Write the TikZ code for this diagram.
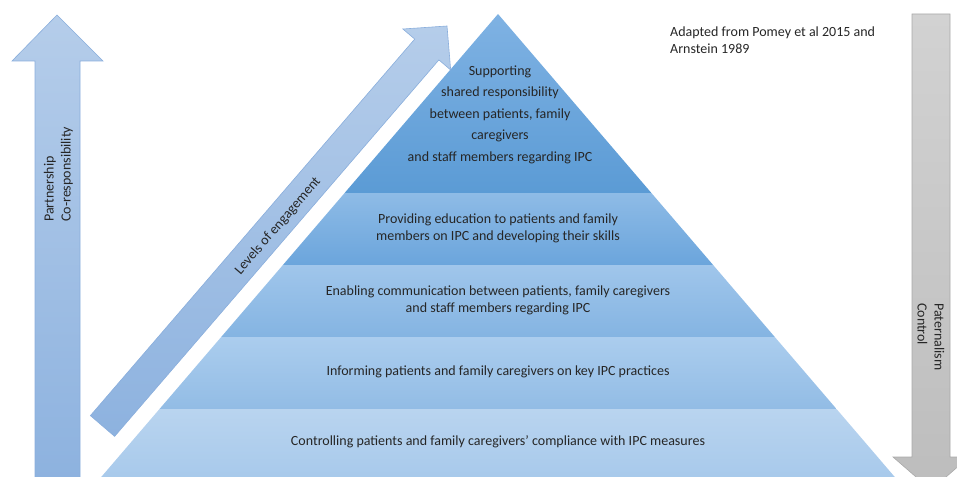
\documentclass[tikz,border=0pt]{standalone}
\usepackage{fontspec}
\setmainfont{Carlito}
\definecolor{arrowTop}{HTML}{B5CDEA}
\definecolor{arrowBot}{HTML}{8DB2DF}
\definecolor{arrowLine}{HTML}{8AAEDC}
\definecolor{grayTop}{HTML}{D2D2D2}
\definecolor{grayBot}{HTML}{BDBDBD}
\definecolor{grayLine}{HTML}{A9A9A9}
\definecolor{lOneTop}{HTML}{7FB2E3}
\definecolor{lOneBot}{HTML}{5B9BD5}
\definecolor{lTwoTop}{HTML}{8EBBE6}
\definecolor{lTwoBot}{HTML}{6BA5DC}
\definecolor{lThreeTop}{HTML}{A0C6EB}
\definecolor{lThreeBot}{HTML}{84B4E2}
\definecolor{lFourTop}{HTML}{ABCDEE}
\definecolor{lFourBot}{HTML}{92BCE5}
\definecolor{lFiveTop}{HTML}{B9D4EF}
\definecolor{lFiveBot}{HTML}{A7C9EB}
\definecolor{txtcol}{HTML}{262626}
\begin{document}
\begin{tikzpicture}[x=1pt,y=-1pt,
  txt/.style={font=\fontsize{14}{17}\selectfont, text=txtcol, align=center, inner sep=0pt},
  toptxt/.style={font=\fontsize{14}{21.5}\selectfont, text=txtcol, align=center, inner sep=0pt},
  bluearrow/.style={draw=arrowLine, line width=0.6pt, top color=arrowTop, bottom color=arrowBot},
  grayarrow/.style={draw=grayLine, line width=0.6pt, top color=grayTop, bottom color=grayBot},
]
\useasboundingbox (0,0) rectangle (957,476);
\clip (0,0) rectangle (957,476);

% pyramid layers
\shade[top color=lOneTop, bottom color=lOneBot] (498,14) -- (651.4,193) -- (344.6,193) -- cycle;
\shade[top color=lTwoTop, bottom color=lTwoBot] (344.6,193) -- (651.4,193) -- (713.1,265) -- (282.9,265) -- cycle;
\shade[top color=lThreeTop, bottom color=lThreeBot] (282.9,265) -- (713.1,265) -- (774.8,337) -- (221.2,337) -- cycle;
\shade[top color=lFourTop, bottom color=lFourBot] (221.2,337) -- (774.8,337) -- (836.5,409) -- (159.5,409) -- cycle;
\shade[top color=lFiveTop, bottom color=lFiveBot] (159.5,409) -- (836.5,409) -- (898.2,481) -- (97.8,481) -- cycle;

% left arrow
\shade[bluearrow] (57,15) -- (103,61) -- (80,61) -- (80,480) -- (35,480) -- (35,61) -- (12,61) -- cycle;

% diagonal arrow
\shade[bluearrow] (90.4,415.6) -- (414.7,39.1) -- (402.9,29) -- (447,26) -- (450.7,70) -- (438.9,59.9) -- (114.6,436.4) -- cycle;

% right arrow
\shade[grayarrow] (912,14) -- (950,14) -- (950,457) -- (969,457) -- (931,490) -- (893,457) -- (912,457) -- cycle;

% texts
\node[toptxt] (t1) at (500,114.5) {Supporting\\shared responsibility\\between patients, family\\caregivers\\and staff members regarding IPC};
\node[txt] (t2) at (498,228) {Providing education to patients and family\\members on IPC and developing their skills};
\node[txt] (t3) at (498,300.5) {Enabling communication between patients, family caregivers\\and staff members regarding IPC};
\node[txt] (t4) at (498,372) {Informing patients and family caregivers on key IPC practices};
\node[txt] (t5) at (498,442) {Controlling patients and family caregivers’ compliance with IPC measures};

\node[txt, align=left, anchor=north west] (src) at (670,27) {Adapted from Pomey et al 2015 and\\Arnstein 1989};

\node[txt, align=left, rotate=90, anchor=west] (left) at (58.5,222) {Partnership\\Co-responsibility};
\node[txt, align=left, rotate=-90, anchor=west] (right) at (931,303) {Paternalism\\Control};
\node[txt, rotate=49.3] (lev) at (278,226) {Levels of engagement};
\end{tikzpicture}
\end{document}
